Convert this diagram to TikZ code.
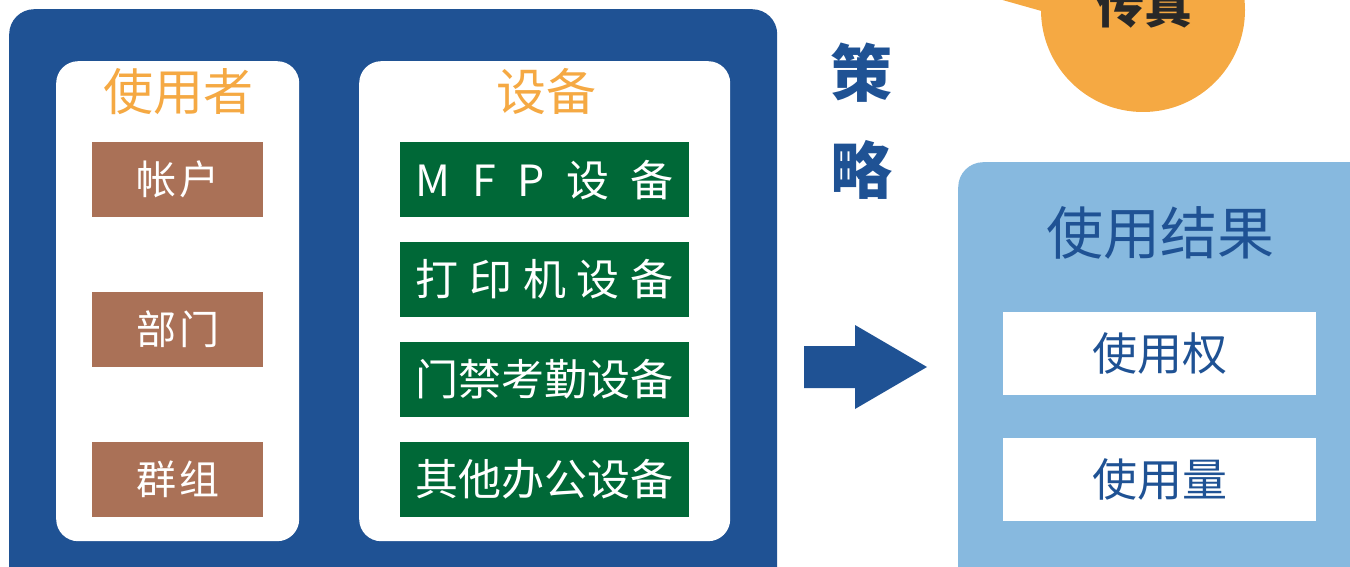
\documentclass[tikz,border=0pt]{standalone}
\usepackage{fontspec}
\setmainfont{Noto Sans CJK SC}
\usetikzlibrary{positioning}

\definecolor{darkblue}{RGB}{31,82,148}
\definecolor{lightblue}{RGB}{135,185,223}
\definecolor{orangefill}{RGB}{245,169,67}
\definecolor{brownbox}{RGB}{170,113,87}
\definecolor{greenbox}{RGB}{0,104,55}
\definecolor{darktext}{RGB}{40,40,40}

\begin{document}
\begin{tikzpicture}[x=1pt, y=-1pt, node distance=24.5pt,
        frame/.style={rounded corners=25pt, anchor=north west, inner sep=0pt},
        panel/.style={fill=white, rounded corners=22pt, anchor=north west, inner sep=0pt, minimum height=480pt},
        title/.style={text=orangefill, font=\fontsize{50}{50}\selectfont},
        userbox/.style={fill=brownbox, text=white, minimum width=171pt, minimum height=75pt, inner sep=0pt, font=\fontsize{40}{40}\selectfont},
        devbox/.style={fill=greenbox, text=white, minimum width=289pt, minimum height=75pt, inner sep=0pt, font=\fontsize{43}{43}\selectfont},
        resultbox/.style={fill=white, text=darkblue, minimum width=313pt, minimum height=83pt, inner sep=0pt, font=\fontsize{45}{45}\selectfont}]

        \useasboundingbox (0,0) rectangle (1350,567);
        \clip (0,0) rectangle (1350,567);

        % Frames
        \node [frame, fill=darkblue, minimum width=768pt, minimum height=620pt] (main) at (9,9) {};
        \node [panel, minimum width=243pt] (users) at (56,61) {};
        \node [panel, minimum width=371pt] (devices) at (359,61) {};
        \node [frame, fill=lightblue, minimum width=450pt, minimum height=450pt] (result) at (958,162) {};

        % Fax bubble
        \fill [orangefill] (960,-12) -- (1045,12) -- (1110,-12) -- cycle;
        \node [circle, fill=orangefill, minimum size=204pt, inner sep=0pt] (fax) at (1143,10) {};
        \node [text=darktext, font=\fontsize{48}{48}\selectfont\bfseries] (faxlabel) at (1144,5) {传真};

        % Users
        \node [title] (usertitle) at (178,92) {使用者};
        \node [userbox, anchor=north west] (account) at (92,142) {\makebox[83pt][s]{帐\hfill 户}};
        \node [userbox, below=74pt of account] (dept) {\makebox[83pt][s]{部\hfill 门}};
        \node [userbox, below=75pt of dept] (group) {\makebox[83pt][s]{群\hfill 组}};

        % Devices
        \node [title] (devtitle) at (546,92) {设备};
        \node [devbox, anchor=north west] (mfp) at (400,142) {\makebox[258pt][s]{M\hfill F\hfill P\hfill 设\hfill 备}};
        \node [devbox, below=of mfp] (printer) {\makebox[258pt][s]{打\hfill 印\hfill 机\hfill 设\hfill 备}};
        \node [devbox, below=of printer] (access) {\makebox[258pt][s]{门\hfill 禁\hfill 考\hfill 勤\hfill 设\hfill 备}};
        \node [devbox, below=of access] (office) {\makebox[258pt][s]{其\hfill 他\hfill 办\hfill 公\hfill 设\hfill 备}};

        % Policy
        \node [text=darkblue, align=center, font=\fontsize{62}{97}\selectfont\bfseries] (policy) at (861,121) {策\\略};
        \fill [darkblue] (804,346) -- (855,346) -- (855,325) -- (927,367) -- (855,409) -- (855,388) -- (804,388) -- cycle;

        % Result
        \node [text=darkblue, font=\fontsize{57}{57}\selectfont] (resulttitle) at (1160,233) {使用结果};
        \node [resultbox] (right) at (1159.5,353.5) {使用权};
        \node [resultbox] (amount) at (1159.5,479.5) {使用量};
\end{tikzpicture}
\end{document}
